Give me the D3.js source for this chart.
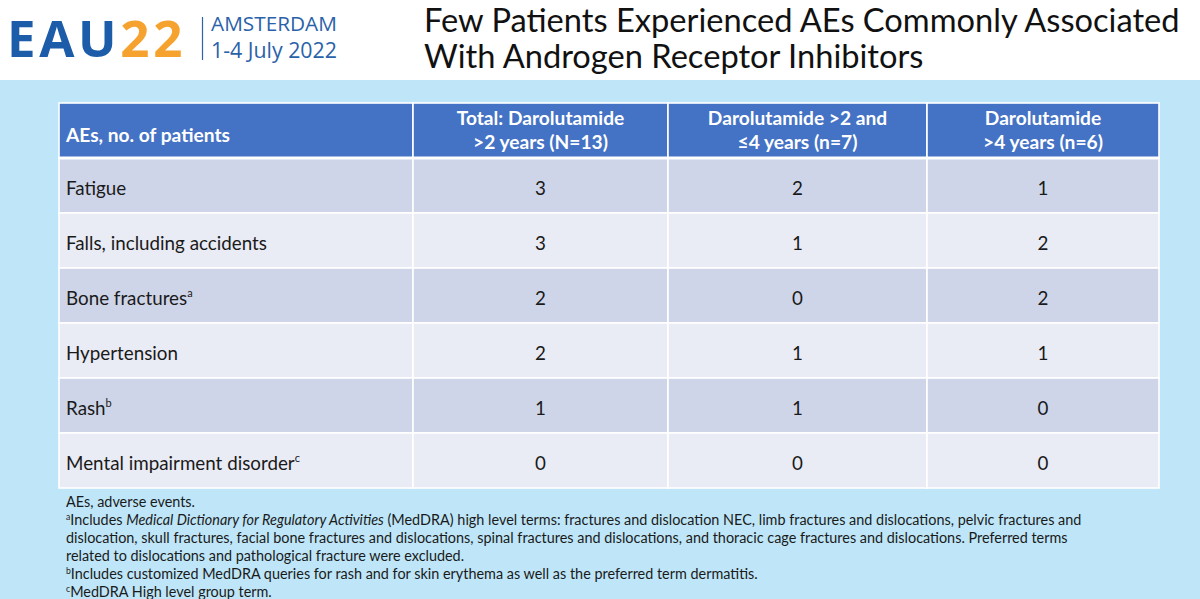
<!DOCTYPE html>
<html>
<head>
<meta charset="utf-8">
<script src="https://cdn.jsdelivr.net/npm/d3@7"></script>
<style>
  html, body { margin: 0; padding: 0; background: #ffffff; }
  svg { display: block; }
  text { font-family: Lato, "Open Sans", "DejaVu Sans", sans-serif; }
</style>
</head>
<body>
<svg id="chart" width="1200" height="599"></svg>
<script>
// ---------- data ----------
const titleLines = ["Few Patients Experienced AEs Commonly Associated", "With Androgen Receptor Inhibitors"];
const logoMain = "EAU";
const logoYear = "22";
const logoCity = "AMSTERDAM";
const logoDates = "1-4 July 2022";

const firstHeader = "AEs, no. of patients";
const seriesHeaders = [
  ["Total: Darolutamide", ">2 years (N=13)"],
  ["Darolutamide >2 and", "\u22644 years (n=7)"],
  ["Darolutamide", ">4 years (n=6)"]
];
const categories = ["Fatigue", "Falls, including accidents", "Bone fractures", "Hypertension", "Rash", "Mental impairment disorder"];
const categoryNotes = ["", "", "a", "", "b", "c"];
const totalValues = [3, 3, 2, 2, 1, 0];
const twoToFourValues = [2, 1, 0, 1, 1, 0];
const overFourValues = [1, 2, 2, 1, 0, 0];
const seriesValues = [totalValues, twoToFourValues, overFourValues];

const footnotes = [
  [{t: "AEs, adverse events."}],
  [{t: "a", sup: true}, {t: "Includes "}, {t: "Medical Dictionary for Regulatory Activities", i: true}, {t: " (MedDRA) high level terms: fractures and dislocation NEC, limb fractures and dislocations, pelvic fractures and"}],
  [{t: "dislocation, skull fractures, facial bone fractures and dislocations, spinal fractures and dislocations, and thoracic cage fractures and dislocations. Preferred terms"}],
  [{t: "related to dislocations and pathological fracture were excluded."}],
  [{t: "b", sup: true}, {t: "Includes customized MedDRA queries for rash and for skin erythema as well as the preferred term dermatitis."}],
  [{t: "c", sup: true}, {t: "MedDRA High level group term."}]
];

// ---------- layout ----------
const W = 1200, H = 599;
const svg = d3.select("#chart");

svg.append("rect").attr("x", 0).attr("y", 0).attr("width", W).attr("height", H).attr("fill", "#ffffff");
svg.append("rect").attr("x", 0).attr("y", 80).attr("width", W).attr("height", H - 80).attr("fill", "#bee6f8");

function fitWidth(sel, target) {
  const fs = parseFloat(sel.attr("font-size"));
  const w = sel.node().getComputedTextLength();
  sel.attr("font-size", fs * target / w);
}

// logo
const logo = svg.append("text").attr("x", 7).attr("y", 57).attr("font-size", 51)
  .attr("font-weight", 700).style("font-family", "'Open Sans', Lato, sans-serif");
logo.append("tspan").attr("fill", "#1d5ca8").text(logoMain);
logo.append("tspan").attr("fill", "#f6a22f").text(logoYear);
{
  const w = logo.node().getComputedTextLength();
  logo.attr("letter-spacing", (179 - w) / 5);
}
svg.append("line").attr("x1", 202.5).attr("x2", 202.5).attr("y1", 17).attr("y2", 60)
  .attr("stroke", "#2f63a8").attr("stroke-width", 1.2);
const c1 = svg.append("text").attr("x", 211).attr("y", 31).attr("font-size", 18).attr("fill", "#2a62a9")
  .style("font-family", "'Open Sans', Lato, sans-serif").text(logoCity);
fitWidth(c1, 126);
const c2 = svg.append("text").attr("x", 211).attr("y", 58).attr("font-size", 18).attr("fill", "#2a62a9")
  .style("font-family", "'Open Sans', Lato, sans-serif").text(logoDates);
fitWidth(c2, 126);

// title
const t1 = svg.append("text").attr("x", 424).attr("y", 32).attr("font-size", 32).attr("fill", "#111").text(titleLines[0]);
fitWidth(t1, 756);
svg.append("text").attr("x", 424).attr("y", 68).attr("font-size", t1.attr("font-size")).attr("fill", "#111").text(titleLines[1]);

// table geometry
const colEdges = [59, 413, 668, 927, 1159];
const headerTop = 103, headerBottom = 158, tableBottom = 488;
const y = d3.scaleBand().domain(categories).range([headerBottom, tableBottom]);
const colCenter = i => (colEdges[i] + colEdges[i + 1]) / 2;

const headerColor = "#4472c4";
const darkRow = "#cfd5e9";
const lightRow = "#e9ebf5";

const tbl = svg.append("g");
for (let c = 0; c < 4; c++) {
  tbl.append("rect").attr("x", colEdges[c]).attr("y", headerTop)
    .attr("width", colEdges[c + 1] - colEdges[c]).attr("height", headerBottom - headerTop)
    .attr("fill", headerColor).attr("stroke", "#ffffff").attr("stroke-width", 1.6);
}
categories.forEach((cat, r) => {
  for (let c = 0; c < 4; c++) {
    tbl.append("rect").attr("x", colEdges[c]).attr("y", y(cat))
      .attr("width", colEdges[c + 1] - colEdges[c]).attr("height", y.bandwidth())
      .attr("fill", r % 2 === 0 ? darkRow : lightRow)
      .attr("stroke", "#ffffff").attr("stroke-width", 1.6);
  }
});
tbl.append("line").attr("x1", colEdges[0]).attr("x2", colEdges[4]).attr("y1", headerBottom).attr("y2", headerBottom)
  .attr("stroke", "#ffffff").attr("stroke-width", 3);

const fs = 18.8;
const hfs = 18.5;
const h0 = tbl.append("text").attr("x", 66).attr("y", 142).attr("font-size", hfs).attr("font-weight", 700)
  .attr("fill", "#ffffff").text(firstHeader);
fitWidth(h0, 164);
seriesHeaders.forEach((lines, i) => {
  lines.forEach((ln, j) => {
    tbl.append("text").attr("x", colCenter(i + 1)).attr("y", 125 + j * 24).attr("text-anchor", "middle")
      .attr("font-size", h0.attr("font-size")).attr("font-weight", 700).attr("fill", "#ffffff").text(ln);
  });
});

categories.forEach((cat, r) => {
  const cy = y(cat) + y.bandwidth() / 2 + 9;
  const tx = tbl.append("text").attr("x", 66).attr("y", cy).attr("font-size", fs).attr("fill", "#1a1a1a");
  tx.append("tspan").text(cat);
  if (categoryNotes[r]) {
    tx.append("tspan").attr("font-size", 11).attr("dy", -8).text(categoryNotes[r]);
  }
  seriesValues.forEach((vals, i) => {
    tbl.append("text").attr("x", colCenter(i + 1)).attr("y", cy).attr("text-anchor", "middle")
      .attr("font-size", fs).attr("fill", "#1a1a1a").text(vals[r]);
  });
});

// footnotes
const fnY = [507, 525, 543, 561, 579, 597];
let fnSize = 13.5;
const fnNodes = footnotes.map((parts, k) => {
  const t = svg.append("text").attr("x", 66).attr("y", fnY[k]).attr("font-size", fnSize).attr("fill", "#1a1a1a");
  let supActive = false;
  parts.forEach(p => {
    const ts = t.append("tspan").text(p.t);
    if (p.i) ts.attr("font-style", "italic");
    if (p.sup) { ts.attr("font-size", fnSize * 0.6).attr("dy", -5); supActive = true; }
    else if (supActive) { ts.attr("dy", 5); supActive = false; }
  });
  return t;
});
{
  const w = fnNodes[1].node().getComputedTextLength();
  const s = fnSize * (1083 - 66) / w;
  fnNodes.forEach(t => {
    t.attr("font-size", s);
    t.selectAll("tspan").each(function () {
      const el = d3.select(this);
      if (el.attr("dy") === "-5") el.attr("font-size", s * 0.6);
    });
  });
}
</script>
</body>
</html>
